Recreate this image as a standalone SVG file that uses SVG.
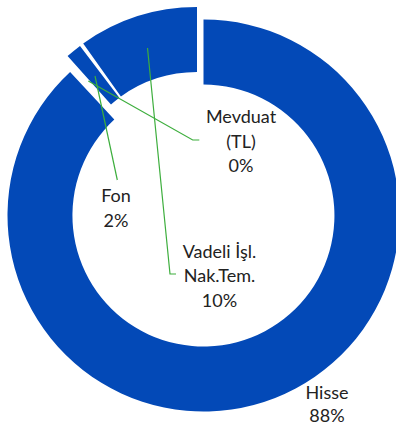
<svg xmlns="http://www.w3.org/2000/svg" width="396" height="431" viewBox="0 0 396 431">
  <style>
    .seg { fill: #0349B7; }
    .lbl { font-family: Lato, "Open Sans", "Liberation Sans", sans-serif; font-size: 18px; fill: #222222; text-anchor: middle; }
    .lead { fill: none; stroke: #3DAE3D; stroke-width: 1.2; }
  </style>
  <rect width="396" height="431" fill="#ffffff"/>
  <g id="hisse">
    <path class="seg" d="M 203.5 19.5 A 196 196 0 1 1 70.1 71.9 L 114.3 119.5 A 131 131 0 1 0 203.5 84.5 Z"/>
    <text class="lbl" x="327" y="399">Hisse</text>
    <text class="lbl" x="327" y="422">88%</text>
  </g>
  <g id="vadeli">
    <path class="seg" d="M 83.2 43.4 A 196 196 0 0 1 197 7 L 197 72 A 131 131 0 0 0 120.9 96.4 Z"/>
    <text class="lbl" x="219.5" y="258">Vadeli İşl.</text>
    <text class="lbl" x="219.5" y="282">Nak.Tem.</text>
    <text class="lbl" x="219.5" y="306.5">10%</text>
  </g>
  <g id="fon">
    <path class="seg" d="M 67.6 56.1 A 196 196 0 0 1 80.0 45.9 L 119.3 97.7 A 131 131 0 0 0 111.0 104.5 Z"/>
    <text class="lbl" x="116" y="202">Fon</text>
    <text class="lbl" x="116" y="227">2%</text>
  </g>
  <g id="mevduat">
    <text class="lbl" x="241" y="123">Mevduat</text>
    <text class="lbl" x="241" y="148">(TL)</text>
    <text class="lbl" x="241" y="172">0%</text>
  </g>
  <g id="connectors">
    <polyline class="lead" points="147.5,48 170,274 176,274"/>
    <polyline class="lead" points="95,76 117.3,180"/>
    <polyline class="lead" points="88.3,81 192.7,140 199.3,140"/>
  </g>
</svg>
